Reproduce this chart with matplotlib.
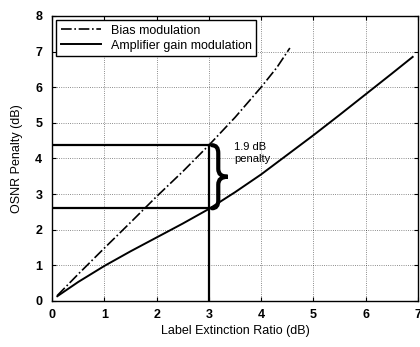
import numpy as np
import matplotlib
matplotlib.use("Agg")
import matplotlib.pyplot as plt
from matplotlib.path import Path
from matplotlib.patches import PathPatch

plt.rcParams['font.family'] = ['Liberation Sans', 'DejaVu Sans']

# ── data ─────────────────────────────────────────────────────────
bias_x = [0.1, 0.5, 1.0, 1.5, 2.0, 2.5, 3.0, 3.5, 4.0, 4.3, 4.55]
bias_y = [0.15, 0.75, 1.48, 2.2, 2.93, 3.63, 4.37, 5.15, 6.0, 6.55, 7.1]

amp_x = [0.1, 0.5, 1.0, 1.5, 2.0, 2.5, 3.0, 3.5, 4.0, 4.5, 5.0, 5.5, 6.0, 6.5, 6.9]
amp_y = [0.13, 0.53, 0.98, 1.39, 1.78, 2.17, 2.58, 3.05, 3.55, 4.1, 4.65,
         5.22, 5.8, 6.38, 6.85]

er_mark = 3.0
pen_bias = 4.37
pen_amp = 2.6

x_ticks = [0, 1, 2, 3, 4, 5, 6, 7]
y_ticks = [0, 1, 2, 3, 4, 5, 6, 7, 8]

fig = plt.figure(figsize=(4.2, 3.47), dpi=100)
ax = fig.add_axes([0.124, 0.133, 0.871, 0.821])

ax.plot(bias_x, bias_y, color="black", lw=1.2, ls="-.", label="Bias modulation")
ax.plot(amp_x, amp_y, color="black", lw=1.4, ls="-", label="Amplifier gain modulation")

# guide lines at ER = 3 dB
ax.plot([er_mark, er_mark], [0, pen_bias], color="black", lw=1.6)
ax.plot([0, er_mark], [pen_bias, pen_bias], color="black", lw=1.6)
ax.plot([0, er_mark], [pen_amp, pen_amp], color="black", lw=1.6)

# curly brace between the two penalties
x0, xm, x1 = 3.06, 3.18, 3.36
top, bot = pen_bias, pen_amp
mid = (top + bot) / 2
d = 0.22
verts = [(x0, top), (xm, top), (xm, top - d),
         (xm, mid + d),
         (xm, mid), (x1, mid),
         (xm, mid), (xm, mid - d),
         (xm, bot + d),
         (xm, bot), (x0, bot)]
codes = [Path.MOVETO, Path.CURVE3, Path.CURVE3,
         Path.LINETO,
         Path.CURVE3, Path.CURVE3,
         Path.CURVE3, Path.CURVE3,
         Path.LINETO,
         Path.CURVE3, Path.CURVE3]
ax.add_patch(PathPatch(Path(verts, codes), fill=False, lw=3.0,
                       edgecolor="black", capstyle="round"))

ax.text(3.48, 4.47, "1.9 dB\npenalty", fontsize=8, va="top", ha="left",
        linespacing=1.25)

ax.set_xlim(0, 7)
ax.set_ylim(0, 8)
ax.set_xticks(x_ticks)
ax.set_yticks(y_ticks)
ax.tick_params(direction="in", top=True, right=True, length=3,
               labelsize=9, width=0.8)
ax.tick_params(axis="x", pad=6)
ax.tick_params(axis="y", pad=7)
for lab in ax.get_xticklabels() + ax.get_yticklabels():
    lab.set_fontweight("bold")
ax.grid(True, ls=":", color="black", lw=0.6, alpha=0.6)
for sp in ax.spines.values():
    sp.set_linewidth(1.0)

ax.set_xlabel("Label Extinction Ratio (dB)", fontsize=9, labelpad=3)
ax.set_ylabel("OSNR Penalty (dB)", fontsize=9, labelpad=9)

leg = ax.legend(loc="upper left", fontsize=9, handlelength=3.2,
                borderaxespad=0.35, fancybox=False, framealpha=1,
                edgecolor="black", labelspacing=0.25, borderpad=0.35)
leg.get_frame().set_linewidth(1.0)

fig.savefig("out.png", dpi=100, facecolor="white")
